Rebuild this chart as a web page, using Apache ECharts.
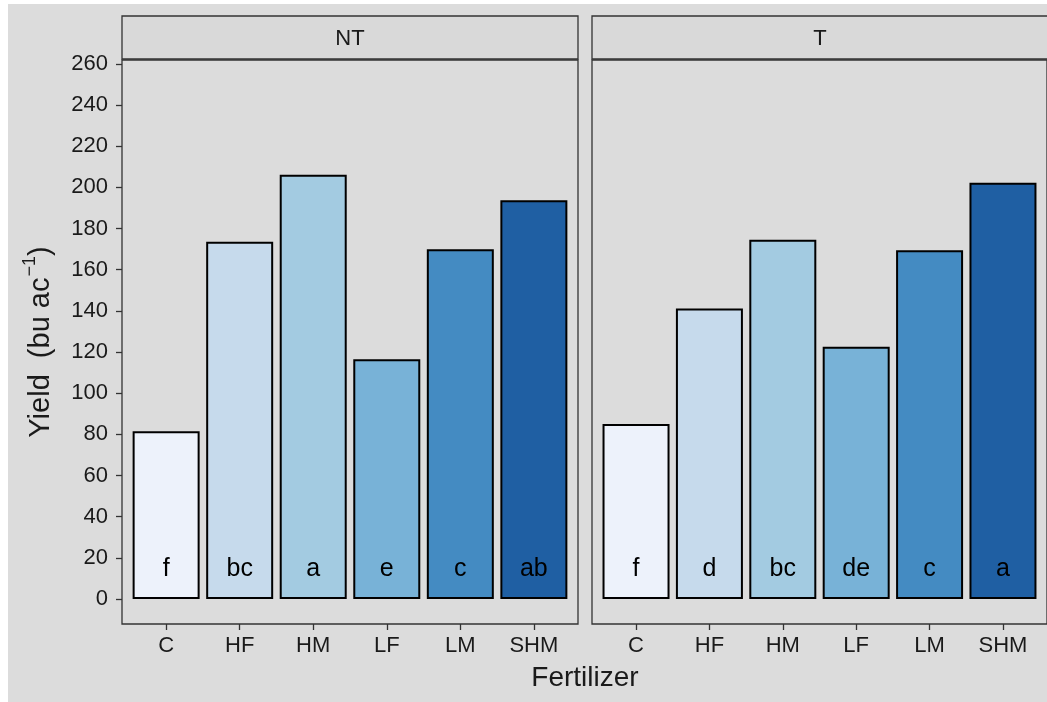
<!DOCTYPE html>
<html>
<head>
<meta charset="utf-8">
<script src="https://cdn.jsdelivr.net/npm/echarts@6/dist/echarts.min.js"></script>
<style>
html,body{margin:0;padding:0;background:#fff;}
#chart{width:1047px;height:702px;background:#dcdcdc;box-shadow:inset 8px 4px 0 #fff;}
</style>
</head>
<body>
<div id="chart"></div>
<script>
const categories = ['C', 'HF', 'HM', 'LF', 'LM', 'SHM'];
const panels = ['NT', 'T'];
const ntYield = [81.5, 173.6, 206.2, 116.5, 170.0, 193.7];
const tYield = [85.0, 141.1, 174.6, 122.6, 169.4, 202.3];
const ntLetters = ['f', 'bc', 'a', 'e', 'c', 'ab'];
const tLetters = ['f', 'd', 'bc', 'de', 'c', 'a'];
const yTicks = [0, 20, 40, 60, 80, 100, 120, 140, 160, 180, 200, 220, 240, 260];
const barColors = ['#edf2fb', '#c6daec', '#a3cbe1', '#78b2d7', '#448bc2', '#1f5fa3'];

const FONT = '"Liberation Sans", Arial, sans-serif';
const xPos = categories.map((c, i) => i + 1);
const yields = [ntYield, tYield];
const letters = [ntLetters, tLetters];
const gridLefts = [122, 592];

const chart = echarts.init(document.getElementById('chart'), null, {renderer: 'canvas'});

const grids = gridLefts.map(l => ({
  left: l, top: 60, width: 456, height: 564,
  show: true, borderColor: '#333', borderWidth: 1.3, backgroundColor: 'transparent'
}));

const xAxes = panels.map((p, k) => ({
  gridIndex: k, type: 'value', min: 0.4, max: 6.6, position: 'bottom',
  axisLine: {show: false, onZero: false}, splitLine: {show: false},
  axisTick: {show: true, inside: false, customValues: xPos, length: 6, lineStyle: {color: '#333', width: 1.3}},
  axisLabel: {customValues: xPos, formatter: v => categories[Math.round(v) - 1],
    fontSize: 22, color: '#1a1a1a', fontFamily: FONT, margin: 11}
}));

const yAxes = panels.map((p, k) => ({
  gridIndex: k, type: 'value', min: -12.15, max: 261.9,
  axisLine: {show: false, onZero: false}, splitLine: {show: false},
  axisTick: {show: k === 0, customValues: yTicks, length: 6, lineStyle: {color: '#333', width: 1.3}},
  axisLabel: {show: k === 0, customValues: yTicks, fontSize: 22, color: '#1a1a1a', fontFamily: FONT, margin: 14},
  name: k === 0 ? '{a|Yield  (bu ac}{s|−1}{a|)}' : '',
  nameLocation: 'middle', nameRotate: 90, nameGap: 67,
  nameTextStyle: {
    rich: {
      a: {fontSize: 29, color: '#1a1a1a', fontFamily: FONT, lineHeight: 34, verticalAlign: 'bottom'},
      s: {fontSize: 18, color: '#1a1a1a', fontFamily: FONT, lineHeight: 34, verticalAlign: 'top', padding: [0, 0, 0, 1]}
    }
  }
}));

const series = panels.map((p, k) => ({
  type: 'bar', xAxisIndex: k, yAxisIndex: k, barWidth: 67,
  data: yields[k].map((v, i) => ({value: [xPos[i], v], itemStyle: {color: barColors[i]}})),
  itemStyle: {borderColor: '#000', borderWidth: 2},
  label: {show: true, position: 'insideBottom', distance: 17,
    formatter: prm => letters[k][prm.dataIndex],
    fontSize: 25, color: '#000', fontFamily: FONT},
  emphasis: {disabled: true}
}));

const graphics = [];
gridLefts.forEach((l, k) => {
  graphics.push({type: 'rect', silent: true, shape: {x: l, y: 16, width: 456, height: 43},
    style: {fill: '#d9d9d9', stroke: '#333', lineWidth: 1.3}});
  graphics.push({type: 'text', silent: true,
    style: {text: panels[k], x: l + 228, y: 39, align: 'center', verticalAlign: 'middle',
      textAlign: 'center', textVerticalAlign: 'middle',
      fontSize: 22, fontFamily: FONT, fill: '#1a1a1a'}});
});
graphics.push({type: 'text', silent: true,
  style: {text: 'Fertilizer', x: 585, y: 678, align: 'center', verticalAlign: 'middle',
    textAlign: 'center', textVerticalAlign: 'middle',
    fontSize: 28, fontFamily: FONT, fill: '#1a1a1a'}});

chart.setOption({
  backgroundColor: 'transparent',
  animation: false,
  grid: grids,
  xAxis: xAxes,
  yAxis: yAxes,
  series: series,
  graphic: {elements: graphics}
});
</script>
</body>
</html>
